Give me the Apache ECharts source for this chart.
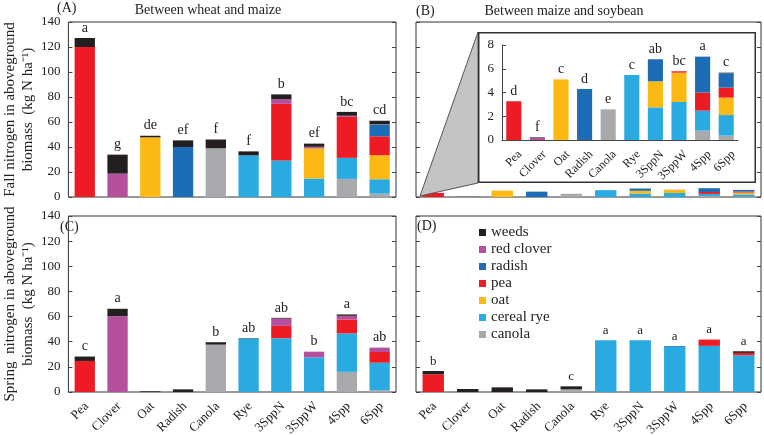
<!DOCTYPE html>
<html>
<head>
<meta charset="utf-8">
<script src="https://cdn.jsdelivr.net/npm/echarts@6/dist/echarts.min.js"></script>
<style>
  html, body { margin: 0; background: #fff; }
  #main { position: absolute; left: 0; top: 0; width: 764px; height: 435px; }
  #inset { position: absolute; left: 478px; top: 32px; width: 278px; height: 151px; }
  #labels { position: absolute; left: 0; top: 0; width: 764px; height: 435px; pointer-events: none; }
  .cat {
    position: absolute;
    white-space: nowrap;
    color: #222;
    font-family: 'Liberation Serif', serif;
    transform-origin: 100% 50%;
    transform: rotate(-45deg);
  }
</style>
</head>
<body>
<div id="main"></div>
<div id="inset"></div>
<div id="labels"></div>
<script>
const cats = ['Pea', 'Clover', 'Oat', 'Radish', 'Canola', 'Rye', '3SppN', '3SppW', '4Spp', '6Spp']

// stack order, bottom to top
const layerNames = ['canola', 'cereal rye', 'oat', 'pea', 'radish', 'red clover', 'weeds']
const layerColors = ['#a7a9ac', '#29abe2', '#fdb913', '#ed1c24', '#1c6db5', '#b5509f', '#231f20']
const legendOrder = ['weeds', 'red clover', 'radish', 'pea', 'oat', 'cereal rye', 'canola']

// (A) fall, between wheat and maize
const canolaA = [0, 0, 0, 0, 39, 0, 0, 0, 14.5, 2.7]
const ryeA = [0, 0, 0, 0, 0, 33.3, 29.3, 14.8, 16.8, 11.5]
const oatA = [0, 0, 47.7, 0, 0, 0, 0, 24.1, 0, 19.2]
const peaA = [120, 0, 0, 0, 0, 0, 45.2, 0, 32.8, 15.2]
const radishA = [0, 0, 0, 40, 0, 0, 0, 0, 0, 9.3]
const cloverA = [0, 18.7, 0, 0, 0, 0, 3.7, 1.3, 0.9, 0.3]
const weedsA = [7.2, 15.2, 1.3, 5.3, 7, 3.2, 3.9, 2.5, 3.1, 2.8]
const lettersA = ['a', 'g', 'de', 'ef', 'f', 'f', 'b', 'ef', 'bc', 'cd']

// (B) fall, between maize and soybean
const canolaB = [0, 0, 0, 0, 2.58, 0, 0, 0, 0.79, 0.37]
const ryeB = [0, 0, 0, 0, 0, 5.48, 2.75, 3.2, 1.68, 1.73]
const oatB = [0, 0, 5.1, 0, 0, 0, 2.19, 2.47, 0, 1.47]
const peaB = [3.26, 0, 0, 0, 0, 0, 0, 0.12, 1.52, 0.84]
const radishB = [0, 0, 0, 4.3, 0, 0, 1.86, 0, 3.03, 1.21]
const cloverB = [0, 0.17, 0, 0, 0, 0, 0, 0, 0, 0]
const weedsB = [0, 0.05, 0, 0, 0, 0, 0, 0, 0, 0.05]
const lettersB = ['d', 'f', 'c', 'd', 'e', 'c', 'ab', 'bc', 'a', 'c']

// (C) spring, between wheat and maize
const canolaC = [0, 0, 0, 0, 37.7, 0, 0, 0, 16, 1.5]
const ryeC = [0, 0, 0, 0, 0, 42.5, 42.8, 27.6, 30.6, 21.8]
const oatC = [0, 0, 0, 0, 0, 0, 0, 0, 0, 0]
const peaC = [24.7, 0, 0, 0, 0, 0, 9.8, 0, 11.1, 8.5]
const radishC = [0, 0, 0, 0, 0, 0, 0, 0, 0, 0]
const cloverC = [0, 60.3, 0, 0, 0, 0, 5.8, 4.5, 2.9, 3.5]
const weedsC = [3.5, 5.9, 0.5, 2.1, 1.9, 0.3, 0.6, 0, 1.1, 0]
const lettersC = ['c', 'a', '', '', 'b', 'ab', 'ab', 'b', 'a', 'ab']

// (D) spring, between maize and soybean
const canolaD = [0, 0, 0, 0, 2.1, 0, 0, 0, 0, 0]
const ryeD = [0, 0, 0, 0, 0, 41.2, 41.2, 35.9, 36.7, 29.2]
const oatD = [0, 0, 0, 0, 0, 0, 0, 0, 0, 0]
const peaD = [14.1, 0, 0, 0, 0, 0, 0, 0, 5, 1.9]
const radishD = [0, 0, 0, 0, 0, 0, 0, 0.6, 0, 0]
const cloverD = [0, 0, 0, 0, 0, 0, 0, 0, 0, 0]
const weedsD = [2.6, 2.4, 3.7, 2.1, 2.4, 0, 0, 0, 0, 1.3]
const lettersD = ['b', '', '', '', 'c', 'a', 'a', 'a', 'a', 'a']

const font = 'Liberation Serif'
const ink = '#222'

const grids = [
  { left: 56, top: 22, width: 340, height: 175, show: true, borderColor: '#333' },
  { left: 416, top: 22, width: 345, height: 175, show: true, borderColor: '#333' },
  { left: 56, top: 216, width: 340, height: 176, show: true, borderColor: '#333' },
  { left: 416, top: 216, width: 345, height: 176, show: true, borderColor: '#333' }
]

// category names are placed as slanted text further down (addSlantedLabels)
const xAxis = grids.map((g, i) => ({
  type: 'category',
  gridIndex: i,
  data: cats,
  axisTick: { show: false },
  axisLine: { show: false },
  axisLabel: { show: false }
}))

const mainNames = [
  'Fall nitrogen in aboveground\nbiomass  (kg N ha\u207B\u00B9)',
  '',
  'Spring  nitrogen in aboveground\nbiomass  (kg N ha\u207B\u00B9)',
  ''
]

const yAxis = []
for (let i = 0; i < 4; i++) {
  yAxis.push({
    type: 'value',
    gridIndex: i,
    min: 0,
    max: 140,
    interval: 20,
    name: mainNames[i],
    nameLocation: 'middle',
    nameRotate: 90,
    nameGap: 23,
    nameTextStyle: { fontFamily: font, fontSize: 15, lineHeight: 18, color: ink },
    splitLine: { show: false },
    axisLine: { show: false },
    axisTick: { show: true, inside: true, length: 4, lineStyle: { color: '#444' } },
    axisLabel: { show: i % 2 === 0, color: ink, fontFamily: font, fontSize: 13, margin: 8 }
  })
}
// right-hand ticks of the four panels
for (let i = 0; i < 4; i++) {
  yAxis.push({
    type: 'value',
    gridIndex: i,
    position: 'right',
    min: 0,
    max: 140,
    interval: 20,
    splitLine: { show: false },
    axisLine: { show: false },
    axisLabel: { show: false },
    axisTick: { show: true, inside: true, length: 4, lineStyle: { color: '#444' } }
  })
}

const stackSeries = (layers, letters, gi, size, barW) => {
  const out = layers.map((vals, k) => ({
    type: 'bar',
    name: layerNames[k],
    xAxisIndex: gi,
    yAxisIndex: gi,
    stack: 'g' + gi,
    barWidth: barW,
    itemStyle: { color: layerColors[k] },
    data: vals
  }))
  if (letters) {
    // zero-height bar on top of the stack carries the letter
    out.push({
      type: 'bar',
      name: 'sig',
      xAxisIndex: gi,
      yAxisIndex: gi,
      stack: 'g' + gi,
      barWidth: barW,
      itemStyle: { color: 'transparent' },
      label: {
        show: true,
        position: 'top',
        distance: 3,
        color: ink,
        fontFamily: font,
        fontSize: size,
        formatter: (d) => letters[d.dataIndex]
      },
      data: cats.map(() => 0)
    })
  }
  return out
}

const layersA = [canolaA, ryeA, oatA, peaA, radishA, cloverA, weedsA]
const layersB = [canolaB, ryeB, oatB, peaB, radishB, cloverB, weedsB]
const layersC = [canolaC, ryeC, oatC, peaC, radishC, cloverC, weedsC]
const layersD = [canolaD, ryeD, oatD, peaD, radishD, cloverD, weedsD]

const series = [].concat(
  stackSeries(layersA, lettersA, 0, 14, '62%'),
  stackSeries(layersB, null, 1, 14, '62%'),
  stackSeries(layersC, lettersC, 2, 14, '62%'),
  stackSeries(layersD, lettersD, 3, 13, '62%')
)

const gB = grids[1]
const box = { x: 478, y: 32, w: 278, h: 151 }

const option = {
  animation: false,
  backgroundColor: '#fff',
  grid: grids,
  xAxis: xAxis,
  yAxis: yAxis,
  legend: {
    data: legendOrder,
    orient: 'vertical',
    left: 474,
    top: 220,
    itemWidth: 7,
    itemHeight: 7,
    itemGap: 2,
    icon: 'rect',
    textStyle: { fontFamily: font, fontSize: 15, lineHeight: 15, color: ink }
  },
  graphic: [
    {
      type: 'polygon',
      z: 5,
      shape: {
        points: [
          [gB.left + 4, gB.top + gB.height - 1],
          [box.x, box.y],
          [box.x, box.y + box.h]
        ]
      },
      style: { fill: '#c4c4c4', stroke: '#555', lineWidth: 1 }
    },
    { type: 'text', z: 20, style: { text: '(A)', x: 57, y: 8, font: '14px ' + font, fill: ink, textVerticalAlign: 'middle' } },
    { type: 'text', z: 20, style: { text: 'Between wheat and maize', x: 208, y: 10, font: '14px ' + font, fill: ink, textAlign: 'center', textVerticalAlign: 'middle' } },
    { type: 'text', z: 20, style: { text: '(B)', x: 416, y: 11, font: '14px ' + font, fill: ink, textVerticalAlign: 'middle' } },
    { type: 'text', z: 20, style: { text: 'Between maize and soybean', x: 564, y: 11, font: '14px ' + font, fill: ink, textAlign: 'center', textVerticalAlign: 'middle' } },
    { type: 'text', z: 20, style: { text: '(C)', x: 60, y: 227, font: '14px ' + font, fill: ink, textVerticalAlign: 'middle' } },
    { type: 'text', z: 20, style: { text: '(D)', x: 417, y: 226, font: '14px ' + font, fill: ink, textVerticalAlign: 'middle' } }
  ],
  series: series
}

// zoomed inset of (B), drawn as its own chart on top
const insetOption = {
  animation: false,
  backgroundColor: '#fff',
  grid: { left: 24, top: 13, width: 236, height: 95 },
  xAxis: {
    type: 'category',
    data: cats,
    axisTick: { show: false },
    axisLine: { show: true, lineStyle: { color: '#444' } },
    axisLabel: { show: false }
  },
  yAxis: {
    type: 'value',
    min: 0,
    max: 8,
    interval: 2,
    splitLine: { show: false },
    axisLine: { show: true, lineStyle: { color: '#444' } },
    axisTick: { show: true, inside: true, length: 4, lineStyle: { color: '#444' } },
    axisLabel: { color: ink, fontFamily: font, fontSize: 13, margin: 8 }
  },
  graphic: [
    {
      type: 'rect',
      z: 1,
      shape: { x: 0.75, y: 0.75, width: box.w - 1.5, height: box.h - 1.5 },
      style: { fill: 'none', stroke: '#333', lineWidth: 1.5 }
    }
  ],
  series: stackSeries(layersB, lettersB, 0, 14, '64%')
}

const myChart = echarts.init(document.getElementById('main'))
option && myChart.setOption(option)

const insetChart = echarts.init(document.getElementById('inset'))
insetOption && insetChart.setOption(insetOption)

// slanted category names, anchored (right end) at the axis' own category positions
const labelLayer = document.getElementById('labels')
const addSlantedLabels = (chart, axisIdxs, ox, oy, dx, dy, size) => {
  axisIdxs.forEach((ai) => {
    cats.forEach((c) => {
      const p = chart.convertToPixel({ xAxisIndex: ai, yAxisIndex: ai }, [c, 0])
      const el = document.createElement('div')
      el.className = 'cat'
      el.textContent = c
      el.style.fontSize = size + 'px'
      el.style.lineHeight = size + 'px'
      el.style.right = (764 - (ox + p[0] + dx)) + 'px'
      el.style.top = (oy + p[1] + dy - size / 2) + 'px'
      labelLayer.appendChild(el)
    })
  })
}
addSlantedLabels(myChart, [2, 3], 0, 0, 1, 11, 13)
addSlantedLabels(insetChart, [0], box.x, box.y, 6, 12, 12)

window.addEventListener('resize', function () {
  myChart.resize()
  insetChart.resize()
})
</script>
</body>
</html>
